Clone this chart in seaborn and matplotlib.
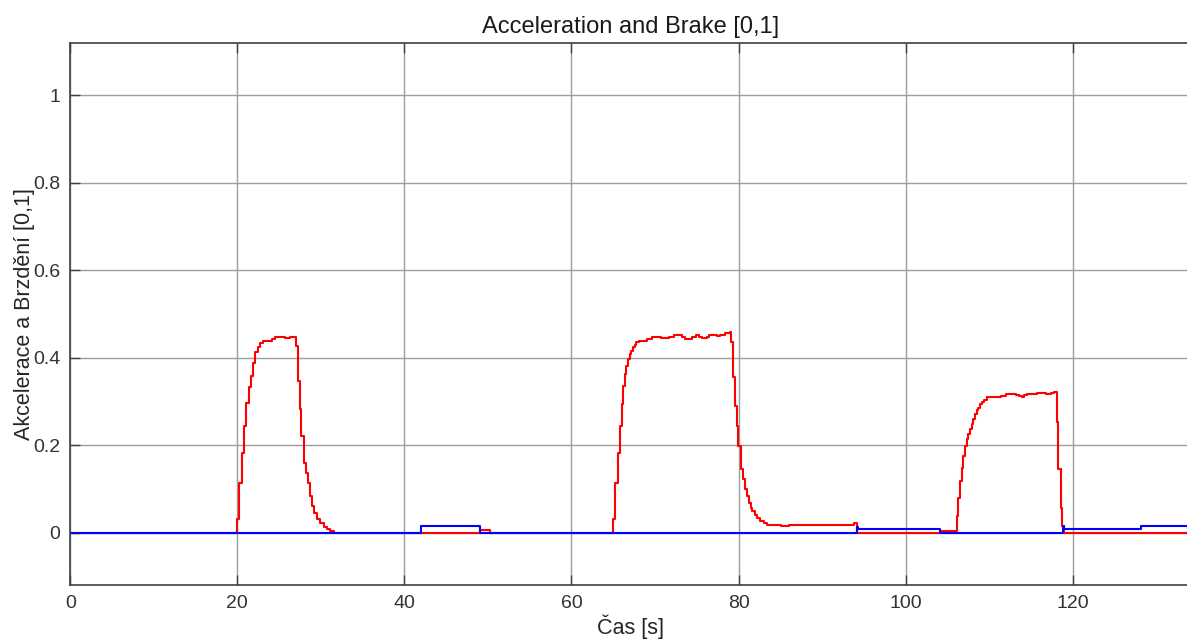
import numpy as np
import pandas as pd
import matplotlib
matplotlib.use("Agg")
import matplotlib.pyplot as plt
import seaborn as sns

# Accelerator pedal signal (step breakpoints: time [s], value [0,1])
accel_t = [0.0, 20.0, 20.16, 20.56, 20.84, 21.08, 21.36, 21.64, 21.88, 22.12, 22.44,
           22.75, 23.07, 24.15, 24.55, 25.75, 26.35, 27.07, 27.27, 27.46, 27.66,
           27.94, 28.26, 28.46, 28.66, 28.94, 29.22, 29.54, 29.94, 30.34, 30.74,
           31.14, 31.53, 49.0, 50.2,
           65.0, 65.27, 65.55, 65.79, 65.99, 66.19, 66.39, 66.55, 66.75, 66.95,
           67.14, 67.34, 67.58, 67.78, 68.06, 69.06, 69.66, 70.66, 71.66, 72.26,
           73.26, 73.65, 74.45, 74.85, 75.25, 75.65, 76.17, 76.45, 77.45, 77.84,
           78.44, 78.96, 79.04, 79.32, 79.56, 79.76, 79.96, 80.24, 80.56, 80.76,
           81.04, 81.24, 81.44, 81.64, 81.92, 82.24, 82.63, 83.03, 83.43, 85.03,
           86.03, 93.81, 94.13, 104.1,
           106.1, 106.31, 106.51, 106.71, 106.91, 107.10, 107.31, 107.51, 107.70,
           107.90, 108.10, 108.30, 108.50, 108.70, 108.90, 109.10, 109.38, 109.78,
           111.38, 111.98, 113.17, 113.57, 113.97, 114.17, 114.57, 115.77, 116.17,
           116.77, 117.37, 117.77, 118.08, 118.28, 118.56, 118.76, 118.96, 134.05]
accel_v = [0.0, 0.030, 0.114, 0.183, 0.244, 0.297, 0.332, 0.359, 0.389, 0.412, 0.424,
           0.433, 0.439, 0.443, 0.447, 0.444, 0.447, 0.427, 0.347, 0.282, 0.221,
           0.160, 0.137, 0.114, 0.083, 0.060, 0.045, 0.030, 0.021, 0.013, 0.007,
           0.003, 0.0, 0.005, 0.0,
           0.030, 0.114, 0.183, 0.244, 0.293, 0.335, 0.362, 0.381, 0.396, 0.408,
           0.416, 0.424, 0.429, 0.435, 0.439, 0.443, 0.447, 0.444, 0.447, 0.452,
           0.447, 0.443, 0.447, 0.452, 0.447, 0.444, 0.447, 0.451, 0.449, 0.452,
           0.456, 0.459, 0.435, 0.355, 0.290, 0.244, 0.198, 0.145, 0.122, 0.099,
           0.083, 0.068, 0.057, 0.049, 0.041, 0.034, 0.026, 0.022, 0.018, 0.014,
           0.018, 0.021, 0.0, 0.003,
           0.037, 0.080, 0.118, 0.148, 0.175, 0.198, 0.213, 0.225, 0.236,
           0.248, 0.259, 0.271, 0.280, 0.286, 0.294, 0.299, 0.303, 0.309,
           0.313, 0.317, 0.315, 0.312, 0.309, 0.315, 0.317, 0.320, 0.319,
           0.316, 0.319, 0.322, 0.252, 0.145, 0.057, 0.015, 0.0, 0.0]

# Brake pedal signal (step breakpoints)
brake_t = [0.0, 42.0, 49.0, 94.13, 94.3, 104.1, 118.84, 119.0, 128.2, 134.05]
brake_v = [0.0, 0.015, 0.0, 0.012, 0.008, 0.0, 0.014, 0.008, 0.015, 0.015]

x_ticks = [0, 20, 40, 60, 80, 100, 120]
y_ticks = [0, 0.2, 0.4, 0.6, 0.8, 1.0]
y_tick_labels = ["0", "0.2", "0.4", "0.6", "0.8", "1"]

accel = pd.DataFrame({"t": accel_t, "v": accel_v})
brake = pd.DataFrame({"t": brake_t, "v": brake_v})

sns.set_theme(style="white")
plt.rcParams["font.family"] = ["Liberation Sans", "DejaVu Sans"]

W, H = 1187, 643
fig = plt.figure(figsize=(W / 100, H / 100), dpi=100)
left, right, top, bottom = 70.3, 1190, 43, 585
ax = fig.add_axes([left / W, (H - bottom) / H, (right - left) / W, (bottom - top) / H])

sns.lineplot(data=accel, x="t", y="v", ax=ax, color="#ff0000", lw=1.5,
             drawstyle="steps-post", estimator=None, sort=False)
sns.lineplot(data=brake, x="t", y="v", ax=ax, color="#0000ff", lw=1.5,
             drawstyle="steps-post", estimator=None, sort=False)

ax.set_xlim(0, 134.05)
ax.set_ylim(-0.12, 1.12)
ax.set_xticks(x_ticks)
ax.set_xticklabels([str(v) for v in x_ticks])
ax.set_yticks(y_ticks)
ax.set_yticklabels(y_tick_labels)

ax.grid(True, color="0.62", lw=1.0, ls="-")
ax.set_axisbelow(True)
for name, sp in ax.spines.items():
    sp.set_color("0.25")
    sp.set_linewidth(1.2)
ax.spines["right"].set_visible(False)

ax.tick_params(direction="in", length=7.5, width=1.0, color="0.25",
               labelcolor="0.2", labelsize=14, top=True, right=False,
               left=True, bottom=True, pad=7)

ax.set_title("Acceleration and Brake [0,1]", fontsize=17, color="0.1", pad=7)
ax.set_xlabel("Čas [s]", fontsize=15.5, color="0.15", labelpad=2)
ax.set_ylabel("Akcelerace a Brzdění [0,1]", fontsize=15.5, color="0.15", labelpad=-1)

fig.savefig("out.png", dpi=100)
